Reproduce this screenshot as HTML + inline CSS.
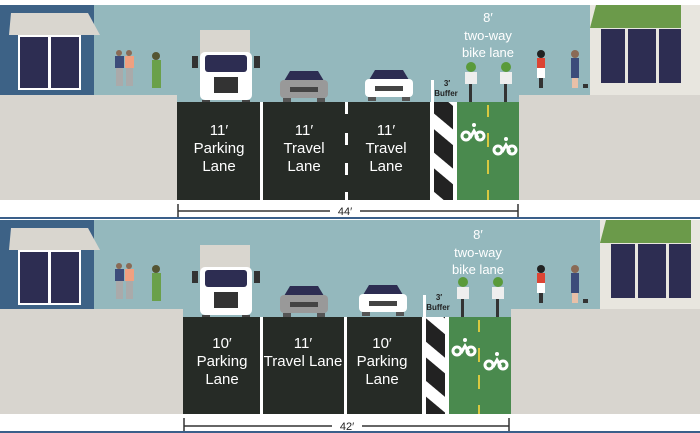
<!DOCTYPE html>
<html><head><style>
html,body{margin:0;padding:0;background:#fff;}
svg{display:block;font-family:"Liberation Sans",sans-serif;}
.l{fill:#fff;font-size:15px;text-anchor:middle;}
.d{fill:#222;font-size:11px;text-anchor:middle;}
</style></head><body>
<svg width="700" height="433" viewBox="0 0 700 433" xmlns="http://www.w3.org/2000/svg">
<defs>
<g id="houseL">
 <rect x="0" y="0" width="94" height="90" fill="#3d6286"/>
 <polygon points="11,8 88,8 100,30 9,30" fill="#d9d6cf"/>
 <rect x="18" y="30" width="63" height="55" fill="#fff"/>
 <rect x="20" y="32" width="28" height="51" fill="#2d2d52"/>
 <rect x="51" y="32" width="28" height="51" fill="#2d2d52"/>
</g>
<g id="houseR">
 <rect x="7" y="0" width="110" height="90" fill="#e8e6df"/>
 <polygon points="7,23 13,0 98,0 98,23" fill="#6b9a4a"/>
 <rect x="18" y="24" width="24" height="54" fill="#2d2d52"/>
 <rect x="45" y="24" width="28" height="54" fill="#2d2d52"/>
 <rect x="76" y="24" width="22" height="54" fill="#2d2d52"/>
</g>
<g id="truck">
 <rect x="8" y="0" width="50" height="32" fill="#d9d6cf"/>
 <rect x="8" y="22" width="52" height="48" rx="5" fill="#fff"/>
 <rect x="13" y="25" width="42" height="17" rx="3" fill="#2d2d52"/>
 <rect x="0" y="26" width="6" height="12" fill="#333"/>
 <rect x="62" y="26" width="6" height="12" fill="#333"/>
 <rect x="22" y="47" width="24" height="16" fill="#333"/>
 <rect x="10" y="70" width="8" height="5" fill="#444"/><rect x="50" y="70" width="8" height="5" fill="#444"/>
</g>
<g id="carG">
 <polygon points="10,0 38,0 44,10 4,10" fill="#2d2d52"/>
 <rect x="0" y="9" width="48" height="18" rx="4" fill="#999"/>
 <rect x="10" y="16" width="28" height="5" fill="#444"/>
 <rect x="3" y="27" width="8" height="4" fill="#555"/><rect x="37" y="27" width="8" height="4" fill="#555"/>
</g>
<g id="carW">
 <polygon points="10,0 38,0 44,10 4,10" fill="#2d2d52"/>
 <rect x="0" y="9" width="48" height="18" rx="4" fill="#fff"/>
 <rect x="10" y="16" width="28" height="5" fill="#444"/>
 <rect x="3" y="27" width="8" height="4" fill="#555"/><rect x="37" y="27" width="8" height="4" fill="#555"/>
</g>
<g id="bikers">
 <circle cx="8" cy="4" r="5" fill="#5a9a3a"/><rect x="2" y="9" width="12" height="12" fill="#eee"/><rect x="6" y="21" width="3" height="18" fill="#333"/>
 <circle cx="43" cy="4" r="5" fill="#5a9a3a"/><rect x="37" y="9" width="12" height="12" fill="#eee"/><rect x="41" y="21" width="3" height="18" fill="#333"/>
</g>
<g id="bikesym" fill="none" stroke="#fff" stroke-width="3">
 <circle cx="4" cy="8" r="4"/><circle cx="18" cy="8" r="4"/><path d="M8 10 L12 3 L16 10"/><circle cx="12" cy="-3" r="2" fill="#fff" stroke="none"/>
</g>
<g id="peopleL">
 <rect x="0" y="6" width="9" height="12" fill="#3c4c7a"/><rect x="1" y="18" width="7" height="18" fill="#aaa"/><circle cx="4" cy="3" r="3" fill="#8a6a55"/>
 <rect x="10" y="6" width="9" height="12" fill="#f0a080"/><rect x="11" y="18" width="7" height="18" fill="#aaa"/><circle cx="14" cy="3" r="3" fill="#8a6a55"/>
 <rect x="37" y="10" width="9" height="28" fill="#6aa04a"/><circle cx="41" cy="6" r="4" fill="#553"/>
</g>
<g id="peopleR">
 <rect x="0" y="8" width="8" height="10" fill="#d43"/><rect x="0" y="18" width="8" height="10" fill="#fff"/><rect x="2" y="28" width="4" height="10" fill="#333"/><circle cx="4" cy="4" r="4" fill="#222"/>
 <rect x="34" y="8" width="8" height="20" fill="#3c4c7a"/><rect x="35" y="28" width="6" height="10" fill="#e8c0a8"/><circle cx="38" cy="4" r="4" fill="#8a6a55"/>
 <rect x="46" y="34" width="5" height="4" fill="#333"/>
</g>
<pattern id="hatch" width="26" height="30" patternUnits="userSpaceOnUse" patternTransform="rotate(40)">
 <rect width="26" height="30" fill="#fff"/>
 <rect width="26" height="18" fill="#222"/>
</pattern>
</defs>

<!-- TOP PANEL -->
<rect x="0" y="5" width="700" height="97" fill="#94b8bd"/>
<use href="#houseL" x="0" y="5"/>
<use href="#houseR" x="583" y="5"/>
<use href="#peopleL" x="115" y="50"/>
<use href="#truck" x="192" y="30"/>
<use href="#carG" x="280" y="71"/>
<use href="#carW" x="365" y="70"/>
<rect x="431" y="80" width="3" height="22" fill="#fff"/>
<use href="#bikers" x="463" y="63"/>
<use href="#peopleR" x="537" y="50"/>
<rect x="0" y="95" width="177" height="105" fill="#d8d5cf"/>
<rect x="519" y="95" width="181" height="105" fill="#d8d5cf"/>
<rect x="177" y="102" width="253" height="98" fill="#262b26"/>
<rect x="260" y="102" width="3" height="98" fill="#fff"/>
<g fill="#fff"><rect x="345" y="102" width="3" height="12"/><rect x="345" y="133" width="3" height="12"/><rect x="345" y="163" width="3" height="12"/><rect x="345" y="192" width="3" height="8"/></g>
<rect x="430" y="102" width="27" height="98" fill="url(#hatch)"/>
<rect x="430" y="102" width="4" height="98" fill="#fff"/><rect x="453" y="102" width="4" height="98" fill="#fff"/>
<rect x="457" y="102" width="62" height="98" fill="#4a8a4e"/>
<g fill="#d8c840"><rect x="487" y="105" width="2" height="12"/><rect x="487" y="133" width="2" height="14"/><rect x="487" y="160" width="2" height="14"/><rect x="487" y="190" width="2" height="10"/></g>
<use href="#bikesym" x="462" y="128"/>
<use href="#bikesym" x="494" y="142"/>
<text class="l" x="219" y="135">11′</text><text class="l" x="219" y="153">Parking</text><text class="l" x="219" y="171">Lane</text>
<text class="l" x="304" y="135">11′</text><text class="l" x="304" y="153">Travel</text><text class="l" x="304" y="171">Lane</text>
<text class="l" x="386" y="135">11′</text><text class="l" x="386" y="153">Travel</text><text class="l" x="386" y="171">Lane</text>
<text class="l" x="488" y="22" style="font-size:13px">8′</text>
<text class="l" x="488" y="40" style="font-size:13px">two-way</text>
<text class="l" x="488" y="57" style="font-size:13px">bike lane</text>
<text class="d" x="447" y="86" style="font-size:8px;font-weight:bold">3′</text>
<text class="d" x="446" y="96" style="font-size:8px;font-weight:bold">Buffer</text>
<line x1="178" y1="211" x2="330" y2="211" stroke="#333" stroke-width="1.5"/>
<line x1="360" y1="211" x2="518" y2="211" stroke="#333" stroke-width="1.5"/>
<line x1="178" y1="204" x2="178" y2="218" stroke="#333" stroke-width="1.5"/>
<line x1="518" y1="204" x2="518" y2="218" stroke="#333" stroke-width="1.5"/>
<text class="d" x="345" y="215">44′</text>
<rect x="0" y="217" width="700" height="2" fill="#3a5f8a"/>

<!-- BOTTOM PANEL -->
<rect x="0" y="220" width="700" height="97" fill="#94b8bd"/>
<use href="#houseL" x="0" y="220"/>
<use href="#houseR" x="593" y="220"/>
<use href="#peopleL" x="115" y="263"/>
<use href="#truck" x="192" y="245"/>
<use href="#carG" x="280" y="286"/>
<use href="#carW" x="359" y="285"/>
<rect x="423" y="295" width="3" height="22" fill="#fff"/>
<use href="#bikers" x="455" y="278"/>
<use href="#peopleR" x="537" y="265"/>
<rect x="0" y="309" width="183" height="105" fill="#d8d5cf"/>
<rect x="511" y="309" width="189" height="105" fill="#d8d5cf"/>
<rect x="183" y="317" width="239" height="97" fill="#262b26"/>
<rect x="260" y="317" width="3" height="97" fill="#fff"/>
<rect x="344" y="317" width="3" height="97" fill="#fff"/>
<rect x="422" y="317" width="27" height="97" fill="url(#hatch)"/>
<rect x="422" y="317" width="4" height="97" fill="#fff"/><rect x="445" y="317" width="4" height="97" fill="#fff"/>
<rect x="449" y="317" width="62" height="97" fill="#4a8a4e"/>
<g fill="#d8c840"><rect x="478" y="320" width="2" height="12"/><rect x="478" y="348" width="2" height="14"/><rect x="478" y="375" width="2" height="14"/><rect x="478" y="405" width="2" height="9"/></g>
<use href="#bikesym" x="453" y="343"/>
<use href="#bikesym" x="485" y="357"/>
<text class="l" x="222" y="348">10′</text><text class="l" x="222" y="366">Parking</text><text class="l" x="222" y="384">Lane</text>
<text class="l" x="303" y="348">11′</text><text class="l" x="303" y="366">Travel Lane</text>
<text class="l" x="382" y="348">10′</text><text class="l" x="382" y="366">Parking</text><text class="l" x="382" y="384">Lane</text>
<text class="l" x="478" y="239" style="font-size:13px">8′</text>
<text class="l" x="478" y="257" style="font-size:13px">two-way</text>
<text class="l" x="478" y="274" style="font-size:13px">bike lane</text>
<text class="d" x="439" y="300" style="font-size:8px;font-weight:bold">3′</text>
<text class="d" x="438" y="310" style="font-size:8px;font-weight:bold">Buffer</text>
<line x1="184" y1="426" x2="332" y2="426" stroke="#333" stroke-width="1.5"/>
<line x1="362" y1="426" x2="509" y2="426" stroke="#333" stroke-width="1.5"/>
<line x1="184" y1="418" x2="184" y2="433" stroke="#333" stroke-width="1.5"/>
<line x1="509" y1="418" x2="509" y2="433" stroke="#333" stroke-width="1.5"/>
<text class="d" x="347" y="430">42′</text>
<rect x="0" y="431" width="700" height="2" fill="#3a5f8a"/>
</svg>
</body></html>
